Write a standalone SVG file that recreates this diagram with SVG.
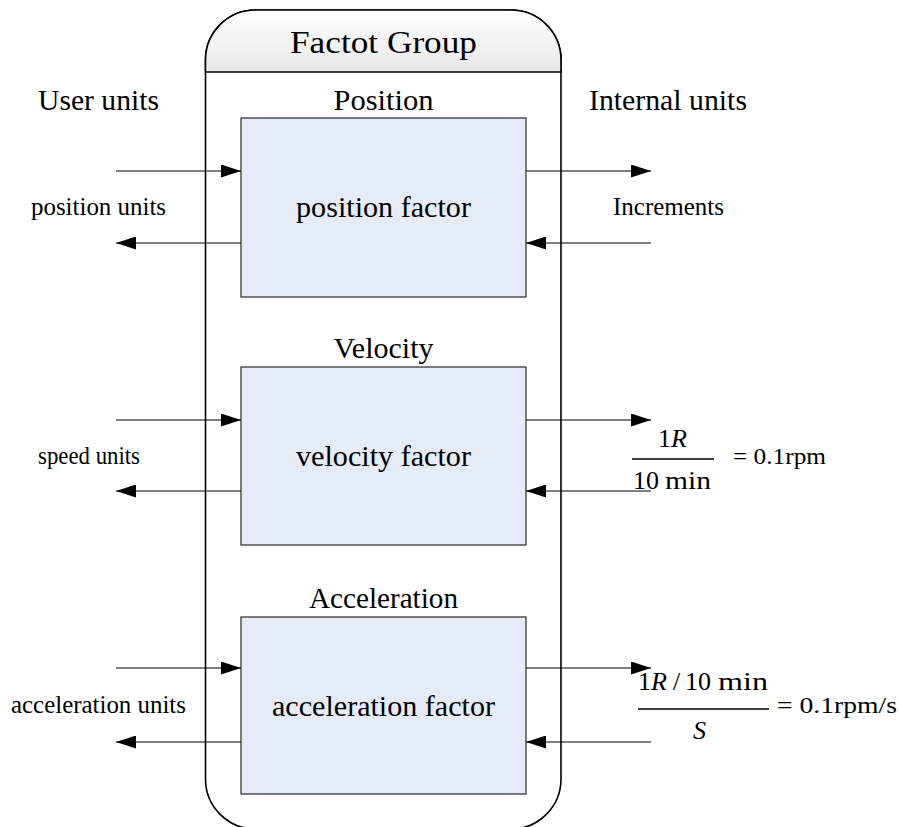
<svg xmlns="http://www.w3.org/2000/svg" width="899" height="827" viewBox="0 0 899 827">
<defs>
<linearGradient id="hdr" x1="0" y1="0" x2="0" y2="1">
<stop offset="0" stop-color="#ffffff"/>
<stop offset="1" stop-color="#e8e8e8"/>
</linearGradient>
<marker id="ah" markerUnits="userSpaceOnUse" markerWidth="20" markerHeight="13" refX="20" refY="6.5" orient="auto">
<path d="M0,0 L20,6.5 L0,13 z" fill="#000"/>
</marker>
</defs>
<style>
.t{font-family:"Liberation Serif","Times New Roman",serif;fill:#000}
.big{font-size:30px}
.sm{font-size:25px}
.m{font-size:26px}
.i{font-style:italic}
.box{fill:#e6ecf7;stroke:#3a3a3a;stroke-width:1.3}
.ln{stroke:#000;stroke-width:1.3;fill:none}
.ar{stroke:#000;stroke-width:1.2;fill:none;marker-end:url(#ah)}
</style>
<rect width="899" height="827" fill="#fff"/>
<g id="group">
<rect x="205.5" y="10" width="355.5" height="819" rx="50" ry="50" fill="#fff" stroke="#000" stroke-width="1.6"/>
<path d="M205.5,72 V60 A50,50 0 0 1 255.5,10 H511 A50,50 0 0 1 561,60 V72 Z" fill="url(#hdr)" stroke="#000" stroke-width="1.6"/>
<text class="t" x="383.5" y="53" text-anchor="middle" font-size="32" textLength="187" lengthAdjust="spacingAndGlyphs">Factot Group</text>
</g>
<g id="labels">
<text class="t big" x="38" y="110" textLength="121" lengthAdjust="spacingAndGlyphs">User units</text>
<text class="t big" x="589" y="110" textLength="158" lengthAdjust="spacingAndGlyphs">Internal units</text>
</g>
<g id="position">
<text class="t big" x="383.5" y="110" text-anchor="middle" textLength="100" lengthAdjust="spacingAndGlyphs">Position</text>
<rect class="box" x="241" y="118" width="285" height="179"/>
<text class="t" x="383.5" y="217" text-anchor="middle" font-size="30" textLength="175" lengthAdjust="spacingAndGlyphs">position factor</text>
<text class="t sm" x="31" y="215" textLength="135" lengthAdjust="spacingAndGlyphs">position units</text>
<text class="t sm" x="613" y="215" textLength="111" lengthAdjust="spacingAndGlyphs">Increments</text>
</g>
<g id="velocity">
<text class="t big" x="383.5" y="358" text-anchor="middle" textLength="100" lengthAdjust="spacingAndGlyphs">Velocity</text>
<rect class="box" x="241" y="367" width="285" height="178"/>
<text class="t" x="383.5" y="466" text-anchor="middle" font-size="30" textLength="175" lengthAdjust="spacingAndGlyphs">velocity factor</text>
<text class="t sm" x="38" y="464" textLength="102" lengthAdjust="spacingAndGlyphs">speed units</text>
<text class="t m" x="658" y="447" textLength="29" lengthAdjust="spacingAndGlyphs">1<tspan class="i">R</tspan></text>
<line class="ln" x1="632" y1="459" x2="714" y2="459"/>
<text class="t m" x="633" y="489" textLength="26" lengthAdjust="spacingAndGlyphs">10</text>
<text class="t m" x="665" y="489" textLength="46" lengthAdjust="spacingAndGlyphs">min</text>
<text class="t" x="733" y="464" font-size="24" textLength="93" lengthAdjust="spacingAndGlyphs">= 0.1rpm</text>
</g>
<g id="acceleration">
<text class="t big" x="383.5" y="608" text-anchor="middle" textLength="149" lengthAdjust="spacingAndGlyphs">Acceleration</text>
<rect class="box" x="241" y="617" width="285" height="177"/>
<text class="t" x="383.5" y="716" text-anchor="middle" font-size="30" textLength="223" lengthAdjust="spacingAndGlyphs">acceleration factor</text>
<text class="t sm" x="11" y="713" textLength="175" lengthAdjust="spacingAndGlyphs">acceleration units</text>
<text class="t m" x="638" y="690" textLength="29" lengthAdjust="spacingAndGlyphs">1<tspan class="i">R</tspan></text>
<text class="t m" x="673" y="690">/</text>
<text class="t m" x="685" y="690" textLength="26" lengthAdjust="spacingAndGlyphs">10</text>
<text class="t m" x="718" y="690" textLength="50" lengthAdjust="spacingAndGlyphs">min</text>
<line class="ln" x1="638" y1="709" x2="769" y2="709"/>
<text class="t m i" x="693" y="739">S</text>
<text class="t" x="777" y="713" font-size="24" textLength="120" lengthAdjust="spacingAndGlyphs">= 0.1rpm/s</text>
</g>
<g id="connectors">
<line class="ar" x1="116" y1="171" x2="241" y2="171"/>
<line class="ar" x1="241" y1="243" x2="116" y2="243"/>
<line class="ar" x1="526" y1="171" x2="651" y2="171"/>
<line class="ar" x1="651" y1="243" x2="526" y2="243"/>
<line class="ar" x1="116" y1="420" x2="241" y2="420"/>
<line class="ar" x1="241" y1="491" x2="116" y2="491"/>
<line class="ar" x1="526" y1="420" x2="651" y2="420"/>
<line class="ar" x1="651" y1="491" x2="526" y2="491"/>
<line class="ar" x1="116" y1="668" x2="241" y2="668"/>
<line class="ar" x1="241" y1="742" x2="116" y2="742"/>
<line class="ar" x1="526" y1="668" x2="651" y2="668"/>
<line class="ar" x1="651" y1="742" x2="526" y2="742"/>
</g>
</svg>
